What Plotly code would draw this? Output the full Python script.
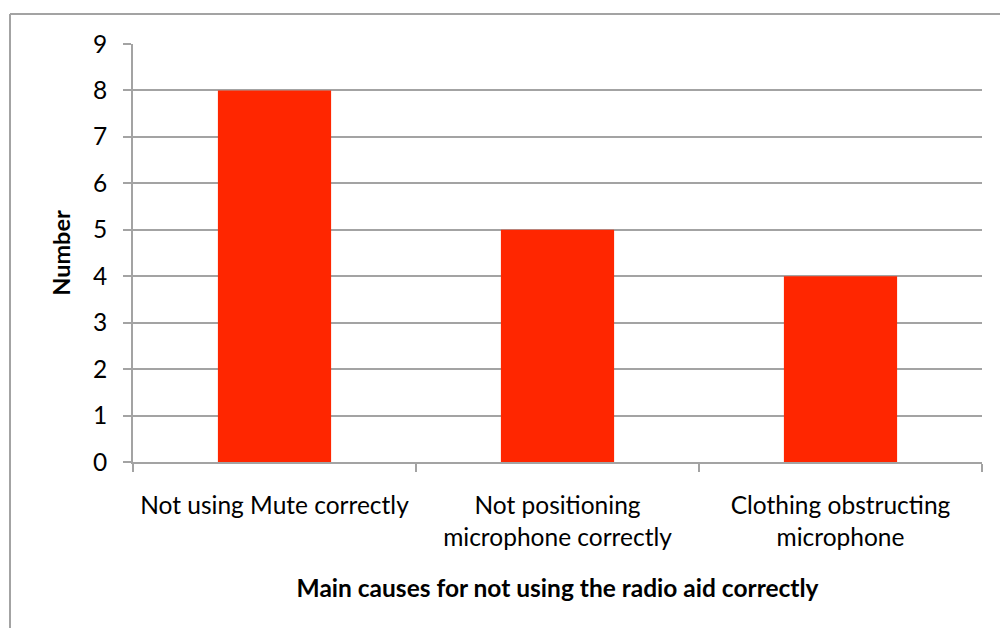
import plotly.graph_objects as go

categories = ["Not using Mute correctly",
              "Not positioning<br>microphone correctly",
              "Clothing obstructing<br>microphone"]
counts = [8, 5, 4]
y_ticks = list(range(0, 10))

GRID = "#A3A3A3"
FONT = "Lato, Open Sans, sans-serif"

W, H = 1000, 628
L, R, T, B = 133, 18, 44, 166
pw, ph = W - L - R, H - T - B

def px_to_paper(x, y):
    return (x - L) / pw, (H - B - y) / ph

fig = go.Figure(go.Bar(
    x=categories, y=counts,
    marker=dict(color="#FF2600", line=dict(width=0)),
    width=0.4,
))

# outer frame (top and left edges visible)
x0, y0 = px_to_paper(10, 14)
x1, _ = px_to_paper(1010, 14)
_, y1 = px_to_paper(10, 640)
fig.add_shape(type="line", xref="paper", yref="paper", x0=x0, y0=y0, x1=x1, y1=y0,
              line=dict(color=GRID, width=2))
fig.add_shape(type="line", xref="paper", yref="paper", x0=x0, y0=y0, x1=x0, y1=y1,
              line=dict(color=GRID, width=2))

fig.update_layout(
    width=W, height=H,
    margin=dict(l=L, r=R, t=T, b=B),
    paper_bgcolor="white", plot_bgcolor="white",
    showlegend=False,
    font=dict(family=FONT, color="black"),
    bargap=0.6,
    xaxis=dict(
        type="category",
        tickson="boundaries",
        ticks="outside", ticklen=8, tickcolor=GRID, tickwidth=2,
        showline=True, linecolor=GRID, linewidth=2,
        showgrid=False,
        tickfont=dict(size=24.5, family=FONT),
        ticklabelstandoff=21,
        title=dict(text="<b>Main causes for not using the radio aid correctly</b>",
                   font=dict(size=24.5, family=FONT), standoff=30),
    ),
    yaxis=dict(
        range=[0, 9],
        tickvals=y_ticks,
        ticks="outside", ticklen=8, tickcolor=GRID, tickwidth=2,
        showline=True, linecolor=GRID, linewidth=2,
        showgrid=True, gridcolor=GRID, gridwidth=2,
        zeroline=False,
        tickfont=dict(size=24.5, family=FONT),
        ticklabelstandoff=11,
        title=dict(text="<b>Number</b>", font=dict(size=23.5, family=FONT), standoff=16),
    ),
)

fig.write_html("out.html")
